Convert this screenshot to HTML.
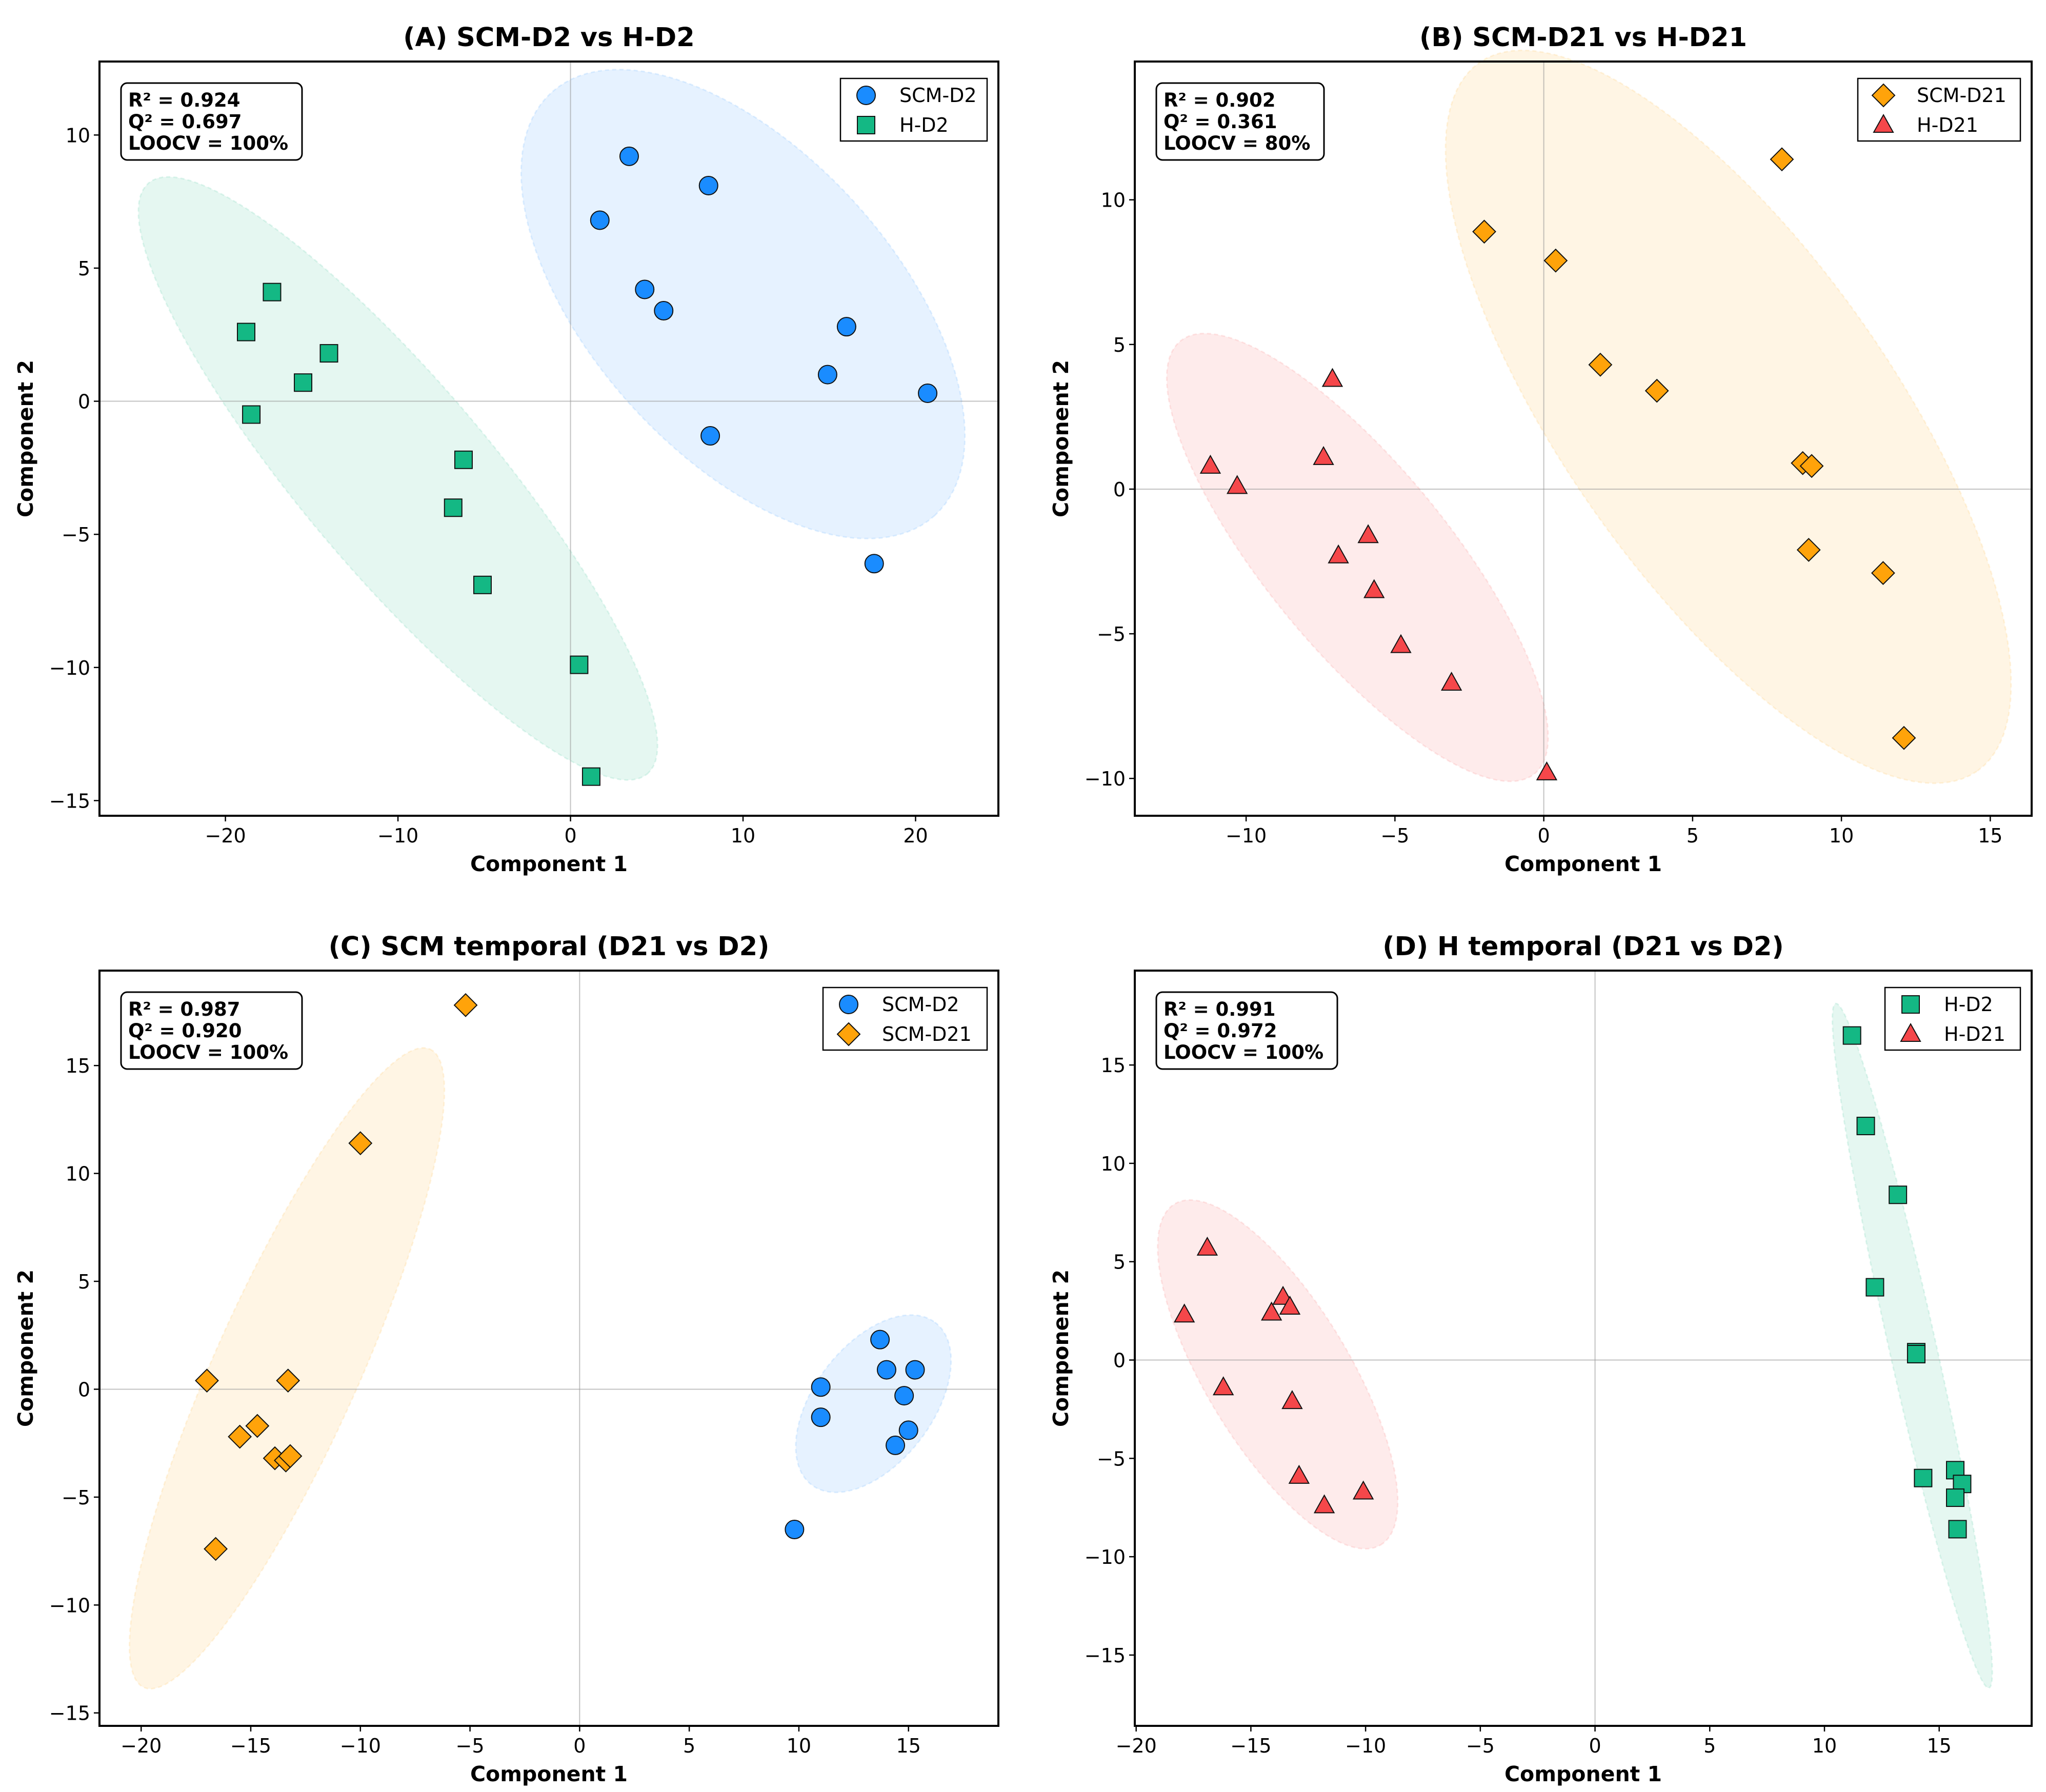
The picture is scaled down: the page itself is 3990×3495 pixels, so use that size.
<!DOCTYPE html>
<html><head><meta charset="utf-8"><style>
html,body{margin:0;padding:0;background:#fff}
svg{display:block}
text{font-family:"DejaVu Sans","Liberation Sans",sans-serif}
</style></head><body>
<svg id="fig" width="3990" height="3495" viewBox="0 0 3990 3495" xmlns="http://www.w3.org/2000/svg"></svg>
<script>
// ---- data ----
const A_scm_x=[3.4,1.7,8.0,4.3,5.4,16.0,14.9,20.7,8.1,17.6];
const A_scm_y=[9.2,6.8,8.1,4.2,3.4,2.8,1.0,0.3,-1.3,-6.1];
const A_h_x=[-17.3,-18.8,-14.0,-15.5,-18.5,-6.2,-6.8,-5.1,0.5,1.2];
const A_h_y=[4.1,2.6,1.8,0.7,-0.5,-2.2,-4.0,-6.9,-9.9,-14.1];
const B_scm_x=[8.0,-2.0,0.4,1.9,3.8,8.7,9.0,8.9,11.4,12.1];
const B_scm_y=[11.4,8.9,7.9,4.3,3.4,0.9,0.8,-2.1,-2.9,-8.6];
const B_h_x=[-7.1,-11.2,-10.3,-7.4,-5.9,-6.9,-5.7,-4.8,-3.1,0.1];
const B_h_y=[3.8,0.8,0.1,1.1,-1.6,-2.3,-3.5,-5.4,-6.7,-9.8];
const C_d2_x=[13.7,14.0,15.3,11.0,14.8,11.0,15.0,14.4,9.8];
const C_d2_y=[2.3,0.9,0.9,0.1,-0.3,-1.3,-1.9,-2.6,-6.5];
const C_d21_x=[-5.2,-10.0,-17.0,-13.3,-15.5,-14.7,-13.9,-13.4,-13.2,-16.6];
const C_d21_y=[17.8,11.4,0.4,0.4,-2.2,-1.7,-3.2,-3.3,-3.1,-7.4];
const D_d2_x=[11.2,11.8,13.2,12.2,14.0,14.0,14.3,15.7,16.0,15.7,15.8];
const D_d2_y=[16.5,11.9,8.4,3.7,0.4,0.3,-6.0,-5.6,-6.3,-7.0,-8.6];
const D_d21_x=[-16.9,-17.9,-13.6,-14.1,-13.3,-16.2,-13.2,-12.9,-11.8,-10.1];
const D_d21_y=[5.7,2.3,3.2,2.4,2.7,-1.4,-2.1,-5.9,-7.4,-6.7];
const A_xticks=[-20,-10,0,10,20], A_yticks=[-15,-10,-5,0,5,10];
const B_xticks=[-10,-5,0,5,10,15], B_yticks=[-10,-5,0,5,10];
const C_xticks=[-20,-15,-10,-5,0,5,10,15], C_yticks=[-15,-10,-5,0,5,10,15];
const D_xticks=[-20,-15,-10,-5,0,5,10,15], D_yticks=[-15,-10,-5,0,5,10,15];
const A_stats=["R² = 0.924","Q² = 0.697","LOOCV = 100%"];
const B_stats=["R² = 0.902","Q² = 0.361","LOOCV = 80%"];
const C_stats=["R² = 0.987","Q² = 0.920","LOOCV = 100%"];
const D_stats=["R² = 0.991","Q² = 0.972","LOOCV = 100%"];

const NS="http://www.w3.org/2000/svg";
const fig=document.getElementById('fig');
function el(tag,attrs,parent){const e=document.createElementNS(NS,tag);for(const k in attrs)e.setAttribute(k,attrs[k]);(parent||fig).appendChild(e);return e;}
const COL={blue:'#1a8cff',green:'#14b884',orange:'#ffa30a',red:'#f5474a'};
const SHAPE={blue:'circle',green:'square',orange:'diamond',red:'triangle'};
function marker(g,shape,px,py,color,name){
  let e;
  if(shape==='circle'){e=el('circle',{cx:px,cy:py,r:18,fill:color,stroke:'#111','stroke-width':2},g);}
  else if(shape==='square'){e=el('rect',{x:px-17,y:py-17,width:34,height:34,fill:color,stroke:'#111','stroke-width':2},g);}
  else if(shape==='diamond'){e=el('polygon',{points:`${px},${py-22} ${px+22},${py} ${px},${py+22} ${px-22},${py}`,fill:color,stroke:'#111','stroke-width':2},g);}
  else {e=el('polygon',{points:`${px},${py-20} ${px+19},${py+14} ${px-19},${py+14}`,fill:color,stroke:'#111','stroke-width':2},g);}
  
  
  return e;
}
function panel(cfg){
  const g=el('g',{});
  
  
  const {L,R,T,B,x0,x1,y0,y1}=cfg;
  const sx=v=>L+(v-x0)/(x1-x0)*(R-L);
  const sy=v=>B-(v-y0)/(y1-y0)*(B-T);
  cfg.ellipses.forEach(E=>{
    let d='';
    for(let i=0;i<=120;i++){const t=i/120*2*Math.PI;
      const x=E.c[0]+Math.cos(t)*E.v1[0]+Math.sin(t)*E.v2[0];
      const y=E.c[1]+Math.cos(t)*E.v1[1]+Math.sin(t)*E.v2[1];
      d+=(i?'L':'M')+sx(x).toFixed(1)+','+sy(y).toFixed(1);}
    const p=el('path',{d:d+'Z',fill:COL[E.color],'fill-opacity':0.11,stroke:COL[E.color],'stroke-opacity':0.12,'stroke-width':3,'stroke-dasharray':'8,6'},g);
    
    
  });
  el('line',{x1:sx(0),x2:sx(0),y1:T,y2:B,stroke:'#999','stroke-opacity':0.6,'stroke-width':2},g);
  el('line',{x1:L,x2:R,y1:sy(0),y2:sy(0),stroke:'#999','stroke-opacity':0.6,'stroke-width':2},g);
  cfg.series.forEach(S=>{
    S.x.forEach((v,i)=>marker(g,SHAPE[S.color],sx(v),sy(S.y[i]),COL[S.color],S.label.toLowerCase()+'-point'));
  });
  const fr=el('rect',{x:L,y:T,width:R-L,height:B-T,fill:'none',stroke:'#000','stroke-width':4},g);
  
  
  cfg.xt.forEach(v=>{const x=sx(v);
    el('line',{x1:x,x2:x,y1:B,y2:B+11,stroke:'#000','stroke-width':2.5},g);
    const t=el('text',{x:x,y:B+52,'font-size':38,'text-anchor':'middle',fill:'#000'},g);t.textContent=String(v).replace('-','−');
    });
  cfg.yt.forEach(v=>{const y=sy(v);
    el('line',{x1:L-11,x2:L,y1:y,y2:y,stroke:'#000','stroke-width':2.5},g);
    const t=el('text',{x:L-18,y:y+14,'font-size':38,'text-anchor':'end',fill:'#000'},g);t.textContent=String(v).replace('-','−');
    });
  let t=el('text',{x:(L+R)/2,y:T-30,'font-size':51,'font-weight':'bold','text-anchor':'middle'},g);t.textContent=cfg.title;
  
  t=el('text',{x:(L+R)/2,y:B+108,'font-size':41,'font-weight':'bold','text-anchor':'middle'},g);t.textContent='Component 1';
  
  const yx=L-130;
  t=el('text',{x:yx,y:(T+B)/2,'font-size':41,'font-weight':'bold','text-anchor':'middle',transform:`rotate(-90 ${yx} ${(T+B)/2})`},g);t.textContent='Component 2';
  
  const bw=cfg.statsW;
  const sb=el('rect',{x:L+42,y:T+42,width:bw,height:150,rx:12,fill:'#fff',stroke:'#000','stroke-width':3},g);
  
  cfg.stats.forEach((s,i)=>{const tt=el('text',{x:L+56,y:T+88+i*42,'font-size':37,'font-weight':'bold'},g);tt.textContent=s;
    });
  const lw=cfg.legW, lx=R-22-lw, ly=T+33;
  const lb=el('rect',{x:lx,y:ly,width:lw,height:122,fill:'#fff',stroke:'#000','stroke-width':2.5},g);
  
  cfg.series.forEach((S,i)=>{const yy=ly+33+i*58;
    marker(g,SHAPE[S.color],lx+50,yy,COL[S.color],'legend-marker');
    const tt=el('text',{x:lx+115,y:yy+13,'font-size':38},g);tt.textContent=S.label;
    });
}
panel({name:'panel-a',L:194,R:1947,T:120,B:1591,x0:-27.3,x1:24.8,y0:-15.57,y1:12.76,
  title:'(A) SCM-D2 vs H-D2',xt:A_xticks,yt:A_yticks,stats:A_stats,statsW:353,legW:286,
  series:[{x:A_scm_x,y:A_scm_y,color:'blue',label:'SCM-D2'},{x:A_h_x,y:A_h_y,color:'green',label:'H-D2'}],
  ellipses:[{c:[10.0,3.65],v1:[11.1,-7.95],v2:[6.5,3.8],color:'blue'},{c:[-10.0,-2.9],v1:[14.45,-11.1],v2:[4.2,2.27],color:'green'}]});
panel({name:'panel-b',L:2213,R:3962,T:120,B:1591,x0:-13.74,x1:16.39,y0:-11.29,y1:14.78,
  title:'(B) SCM-D21 vs H-D21',xt:B_xticks,yt:B_yticks,stats:B_stats,statsW:327,legW:317,
  series:[{x:B_scm_x,y:B_scm_y,color:'orange',label:'SCM-D21'},{x:B_h_x,y:B_h_y,color:'red',label:'H-D21'}],
  ellipses:[{c:[6.2,2.5],v1:[8.37,-12.24],v2:[4.5,3.27],color:'orange'},{c:[-6.26,-2.36],v1:[5.95,-7.48],v2:[2.38,2.0],color:'red'}]});
panel({name:'panel-c',L:194,R:1947,T:1893,B:3366,x0:-21.9,x1:19.1,y0:-15.6,y1:19.4,
  title:'(C) SCM temporal (D21 vs D2)',xt:C_xticks,yt:C_yticks,stats:C_stats,statsW:353,legW:320,
  series:[{x:C_d2_x,y:C_d2_y,color:'blue',label:'SCM-D2'},{x:C_d21_x,y:C_d21_y,color:'orange',label:'SCM-D21'}],
  ellipses:[{c:[13.4,-0.67],v1:[2.81,3.77],v2:[2.16,-1.64],color:'blue'},{c:[-13.35,0.97],v1:[6.53,14.79],v2:[3.0,-1.37],color:'orange'}]});
panel({name:'panel-d',L:2213,R:3962,T:1893,B:3366,x0:-20.06,x1:19.03,y0:-18.6,y1:19.8,
  title:'(D) H temporal (D21 vs D2)',xt:D_xticks,yt:D_yticks,stats:D_stats,statsW:353,legW:264,
  series:[{x:D_d2_x,y:D_d2_y,color:'green',label:'H-D2'},{x:D_d21_x,y:D_d21_y,color:'red',label:'H-D21'}],
  ellipses:[{c:[13.83,0.73],v1:[3.34,-17.4],v2:[1.0,0.26],color:'green'},{c:[-13.83,-0.73],v1:[4.49,-8.67],v2:[2.69,1.87],color:'red'}]});
</script>
</body></html>
